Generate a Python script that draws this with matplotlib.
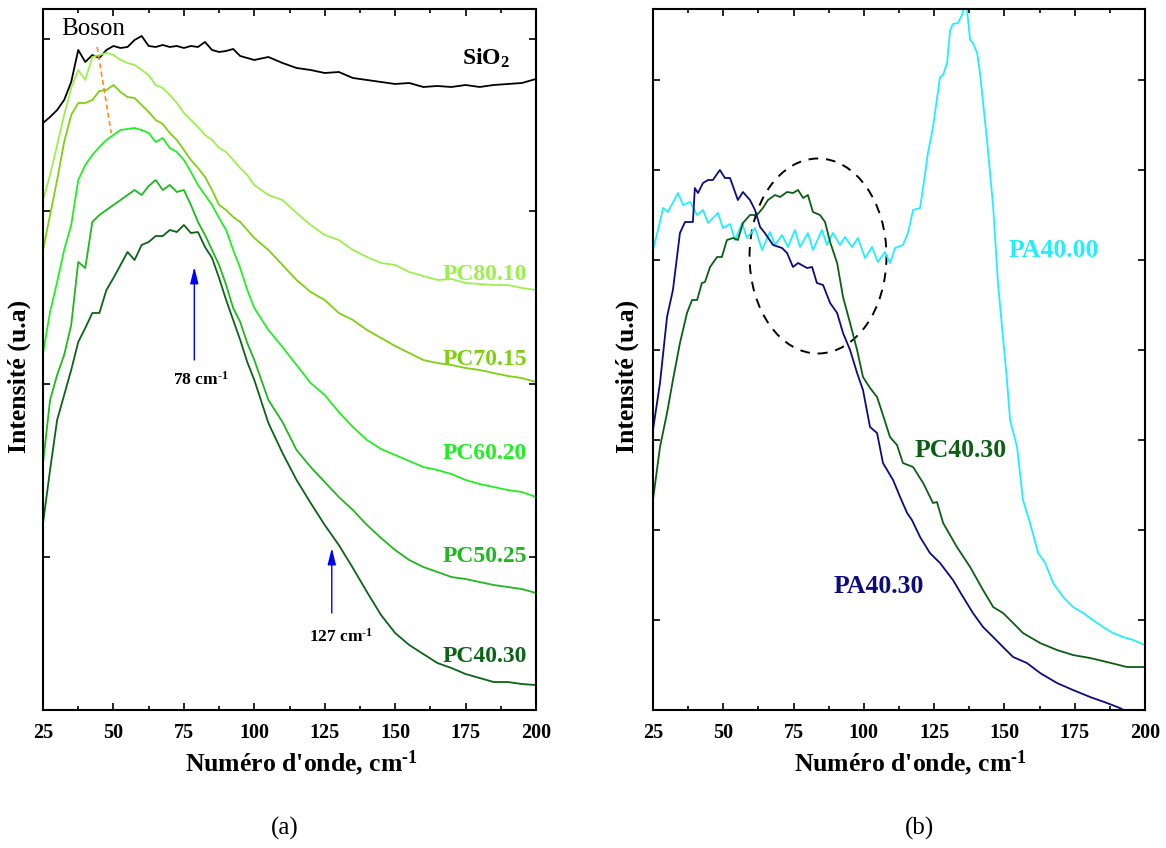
import numpy as np
import matplotlib
matplotlib.use("Agg")
import matplotlib.pyplot as plt
from matplotlib.patches import Ellipse
from matplotlib.ticker import MultipleLocator

plt.rcParams["font.family"] = "serif"
plt.rcParams["font.serif"] = ["Liberation Serif", "DejaVu Serif"]
# every math snippet in this figure is bold, so make the math roman font bold
plt.rcParams["mathtext.fontset"] = "custom"
plt.rcParams["mathtext.rm"] = "Liberation Serif:bold"
plt.rcParams["mathtext.bf"] = "Liberation Serif:bold"
plt.rcParams["mathtext.it"] = "Liberation Serif:bold:italic"

# ---------- DATA (a) : shared wavenumber grid ----------
wn_a = [25, 27.5, 30, 32.5, 35, 37.5, 40, 42.5, 45, 47.5, 50, 52.5, 55, 57.5, 60,
        62.5, 65, 67.5, 70, 72.5, 75, 77.5, 80, 82.5, 85, 87.5, 90, 92.5, 95, 97.5,
        100, 105, 110, 115, 120, 125, 130, 135, 140, 145, 150, 155, 160, 165, 170,
        175, 180, 185, 190, 195, 200]

sio2 = [587, 593, 600, 610, 628, 660, 648, 655, 652, 660, 664, 662, 663, 670, 674,
        664, 663, 665, 663, 664, 662, 664, 663, 668, 660, 658, 659, 661, 654, 652,
        650, 653, 647, 642, 640, 637, 638, 632, 630, 628, 626, 627, 623, 624, 623,
        625, 623, 625, 626, 627, 631]
pc80_10 = [510, 535, 565, 595, 622, 640, 630, 653, 655, 657, 655, 650, 647, 645, 640,
           635, 625, 622, 615, 607, 597, 590, 583, 575, 570, 562, 558, 550, 542, 535,
           525, 515, 510, 497, 485, 475, 470, 460, 453, 447, 445, 438, 434, 430, 431,
           427, 426, 425, 425, 422, 420]
pc70_15 = [460, 495, 530, 568, 595, 607, 607, 610, 619, 620, 625, 618, 613, 612, 605,
           598, 590, 586, 577, 570, 560, 550, 542, 533, 520, 505, 500, 493, 488, 480,
           472, 460, 445, 430, 418, 410, 397, 390, 380, 372, 364, 357, 350, 347, 345,
           342, 340, 337, 334, 332, 328]
pc60_20 = [357, 398, 428, 460, 485, 530, 545, 555, 563, 570, 575, 580, 581, 582, 580,
           577, 568, 572, 562, 558, 550, 538, 525, 515, 505, 492, 480, 460, 442, 420,
           402, 380, 363, 345, 327, 315, 298, 283, 270, 261, 255, 249, 243, 240, 236,
           230, 226, 223, 220, 218, 213]
pc50_25 = [247, 310, 335, 355, 385, 448, 442, 488, 495, 500, 505, 510, 515, 520, 515,
           524, 530, 520, 525, 518, 520, 505, 488, 475, 460, 445, 425, 402, 388, 367,
           350, 310, 288, 260, 243, 228, 213, 200, 185, 172, 160, 150, 143, 138, 133,
           131, 128, 125, 123, 121, 117]
pc40_30 = [187, 240, 290, 315, 340, 368, 382, 397, 397, 420, 432, 445, 458, 450, 465,
           468, 474, 474, 480, 478, 485, 477, 478, 463, 452, 432, 410, 390, 370, 348,
           330, 287, 257, 230, 207, 185, 165, 142, 118, 95, 77, 65, 56, 47, 42,
           36, 32, 28, 28, 26, 25]

labels_a = ["PC80.10", "PC70.15", "PC60.20", "PC50.25", "PC40.30"]
colors_a = ["#9cf04e", "#7fcf12", "#22ee22", "#1fb81f", "#0b6416"]
label_y_a = [430, 345, 251, 148, 48]

# ---------- DATA (b) ----------
pa40_00_x = [25.0, 26.8, 28.6, 30.3, 33.9, 35.7, 38.2, 40.7, 42.8, 44.6, 48.1, 49.9,
             52.4, 54.2, 56.7, 58.4, 61.3, 63.8, 66.6, 68.4, 70.9, 73.0, 75.5, 77.3,
             80.1, 81.9, 85.1, 86.9, 89.0, 91.5, 93.3, 95.8, 97.9, 100.4, 102.9, 105.0,
             107.5, 109.3, 111.1, 113.9, 115.7, 117.5, 120.0, 121.1, 122.8, 124.6, 127.1,
             128.2, 129.6, 130.7, 131.7, 133.5, 134.9, 136.0, 136.7, 137.8, 138.8, 140.3,
             141.3, 143.8, 146.0, 147.7, 150.9, 152.0, 154.5, 156.6, 159.1, 162.0, 164.5,
             167.3, 170.9, 174.4, 178.0, 181.5, 185.1, 188.6, 192.2, 195.8, 200.0]
pa40_00_y = [460, 480, 502, 498, 517, 505, 508, 495, 500, 487, 497, 482,
             486, 470, 487, 472, 482, 460, 478, 465, 475, 463, 480, 463,
             477, 460, 480, 465, 477, 465, 473, 463, 472, 452, 463, 448,
             458, 447, 462, 465, 477, 500, 502, 523, 557, 583, 633,
             635, 647, 680, 686, 687, 695, 705, 700, 670, 667, 657,
             637, 570, 503, 427, 330, 290, 263, 210, 187, 157, 147,
             127, 113, 103, 97, 90, 83, 77, 73, 70, 65]

pa40_30_x = [25.0, 27.5, 30.0, 32.1, 34.6, 36.4, 39.2, 39.9, 41.0, 42.8, 44.6, 46.3,
             48.8, 50.6, 52.4, 55.2, 57.0, 59.5, 61.3, 63.1, 64.8, 67.7, 70.9, 72.7,
             74.8, 76.6, 79.8, 81.6, 83.3, 85.5, 88.0, 90.5, 92.6, 95.1, 97.6, 99.7,
             102.2, 104.7, 106.8, 110.4, 112.9, 115.4, 117.1, 120.0, 123.5, 127.1, 131.7,
             135.3, 138.8, 142.4, 146.0, 149.5, 153.1, 158.0, 162.7, 168.7, 174.4, 180.5,
             186.5, 191.1, 193.6, 200.0]
pa40_30_y = [280, 327, 393, 420, 477, 488, 488, 522, 517, 527, 530, 530,
             540, 532, 532, 510, 518, 510, 500, 483, 477, 465, 462, 457,
             443, 447, 442, 443, 427, 425, 407, 397, 377, 360, 337, 320,
             283, 277, 247, 230, 213, 197, 190, 173, 157, 147, 130,
             113, 97, 83, 73, 63, 53, 47, 37, 27, 20, 13,
             7, 2, -2, -12]

pc40_30b_x = [25.0, 27.5, 30.0, 32.1, 34.6, 37.1, 38.9, 40.7, 42.4, 43.5, 45.3, 47.8,
              49.5, 51.3, 53.5, 55.2, 57.0, 59.5, 62.0, 64.1, 65.9, 68.4, 70.2, 72.7,
              74.8, 76.6, 78.4, 80.1, 81.9, 84.4, 86.2, 88.0, 90.5, 92.6, 95.1, 97.6,
              99.7, 102.2, 104.7, 106.8, 109.3, 111.8, 113.9, 117.5, 121.1, 124.6, 126.0,
              128.2, 133.1, 137.8, 142.4, 146.0, 149.5, 153.1, 156.6, 162.7, 168.7, 174.4,
              180.5, 186.5, 193.6, 200.0]
pc40_30b_y = [210, 263, 297, 330, 367, 397, 410, 410, 427, 428, 443, 453,
              453, 470, 472, 470, 487, 495, 495, 502, 510, 515, 513, 518,
              517, 520, 512, 515, 498, 495, 488, 468, 447, 413, 387, 360,
              333, 322, 313, 295, 273, 265, 247, 243, 227, 207, 208,
              187, 163, 143, 120, 103, 97, 87, 77, 67, 60, 55,
              52, 48, 43, 43]

XTICKS = [25, 50, 75, 100, 125, 150, 175, 200]
BOLD = dict(fontweight="bold")
CM1 = "cm$^{\\text{-1}}$"


def style_axes(ax, yticks):
    ax.set_xlim(25, 200)
    ax.set_ylim(0, 701)
    ax.set_xticks(XTICKS)
    ax.xaxis.set_minor_locator(MultipleLocator(12.5))
    ax.set_yticks(yticks)
    ax.set_yticklabels([])
    ax.tick_params(which="both", direction="in", top=True, right=True, width=1.2)
    ax.tick_params(which="major", length=5, labelsize=14.5, pad=9)
    ax.tick_params(which="minor", length=3)
    for lab in ax.get_xticklabels():
        lab.set_fontweight("bold")
    for sp in ax.spines.values():
        sp.set_linewidth(1.5)
    ax.set_xlabel("Numéro d'onde, " + CM1, fontsize=18.5, **BOLD)
    ax.set_ylabel("Intensité (u.a)", fontsize=18.5, **BOLD)


fig = plt.figure(figsize=(11.66, 8.48), dpi=100)
ax1 = fig.add_axes([0.0369, 0.1627, 0.4228, 0.8267])
ax2 = fig.add_axes([0.5600, 0.1627, 0.4220, 0.8267])

# ---------- panel (a) ----------
ax1.plot(wn_a, sio2, color="black", lw=1.3)
for ys, c in zip([pc80_10, pc70_15, pc60_20, pc50_25, pc40_30], colors_a):
    ax1.plot(wn_a, ys, color=c, lw=1.3)

ax1.plot([44.2, 49.2], [663, 577], color="#ff8c1a", lw=1.2, ls=(0, (3, 2)))
ax1.text(31.4, 675, "Boson", fontsize=18)
ax1.text(190.8, 645, "SiO$_2$", fontsize=17, ha="right", va="baseline", **BOLD)
for lab, c, y in zip(labels_a, colors_a, label_y_a):
    ax1.text(196.8, y, lab, color=c, fontsize=17, ha="right", va="baseline", **BOLD)

arrow = dict(arrowstyle="-|>,head_width=0.25,head_length=1.0", color="blue", lw=1.0,
             shrinkA=0, shrinkB=0)
ax1.annotate("", xy=(78.7, 443), xytext=(78.7, 350), arrowprops=arrow)
ax1.text(80.9, 330, "78 " + CM1, fontsize=12.5, ha="center", va="center", **BOLD)
ax1.annotate("", xy=(127.5, 162), xytext=(127.5, 97), arrowprops=arrow)
ax1.text(130.7, 73, "127 " + CM1, fontsize=12.5, ha="center", va="center", **BOLD)

style_axes(ax1, [153, 326, 499, 671])

# ---------- panel (b) ----------
ax2.plot(pa40_00_x, pa40_00_y, color="#22eeff", lw=1.3)
ax2.plot(pc40_30b_x, pc40_30b_y, color="#0a5f12", lw=1.3)
ax2.plot(pa40_30_x, pa40_30_y, color="#0c0c80", lw=1.3)

ax2.add_patch(Ellipse((83.7, 454), 48.7, 195, fill=False, ec="black", lw=1.4,
                      ls=(0, (5, 4))))
ax2.text(151.3, 453, "PA40.00", color="#22eeff", fontsize=18.5, va="baseline", **BOLD)
ax2.text(118.2, 253, "PC40.30", color="#0a5f12", fontsize=18.5, va="baseline", **BOLD)
ax2.text(89.4, 117, "PA40.30", color="#0c0c80", fontsize=18.5, va="baseline", **BOLD)

style_axes(ax2, list(range(90, 700, 90)))

ax1.yaxis.set_label_coords(-0.024, 0.476)
ax2.yaxis.set_label_coords(-0.028, 0.476)
ax1.xaxis.set_label_coords(0.525, -0.055)
ax2.xaxis.set_label_coords(0.524, -0.055)

fig.text(285 / 1166, 1 - 828 / 848, "(a)", fontsize=18, ha="center", va="center")
fig.text(920 / 1166, 1 - 828 / 848, "(b)", fontsize=18, ha="center", va="center")

fig.savefig("out.png", dpi=100)
